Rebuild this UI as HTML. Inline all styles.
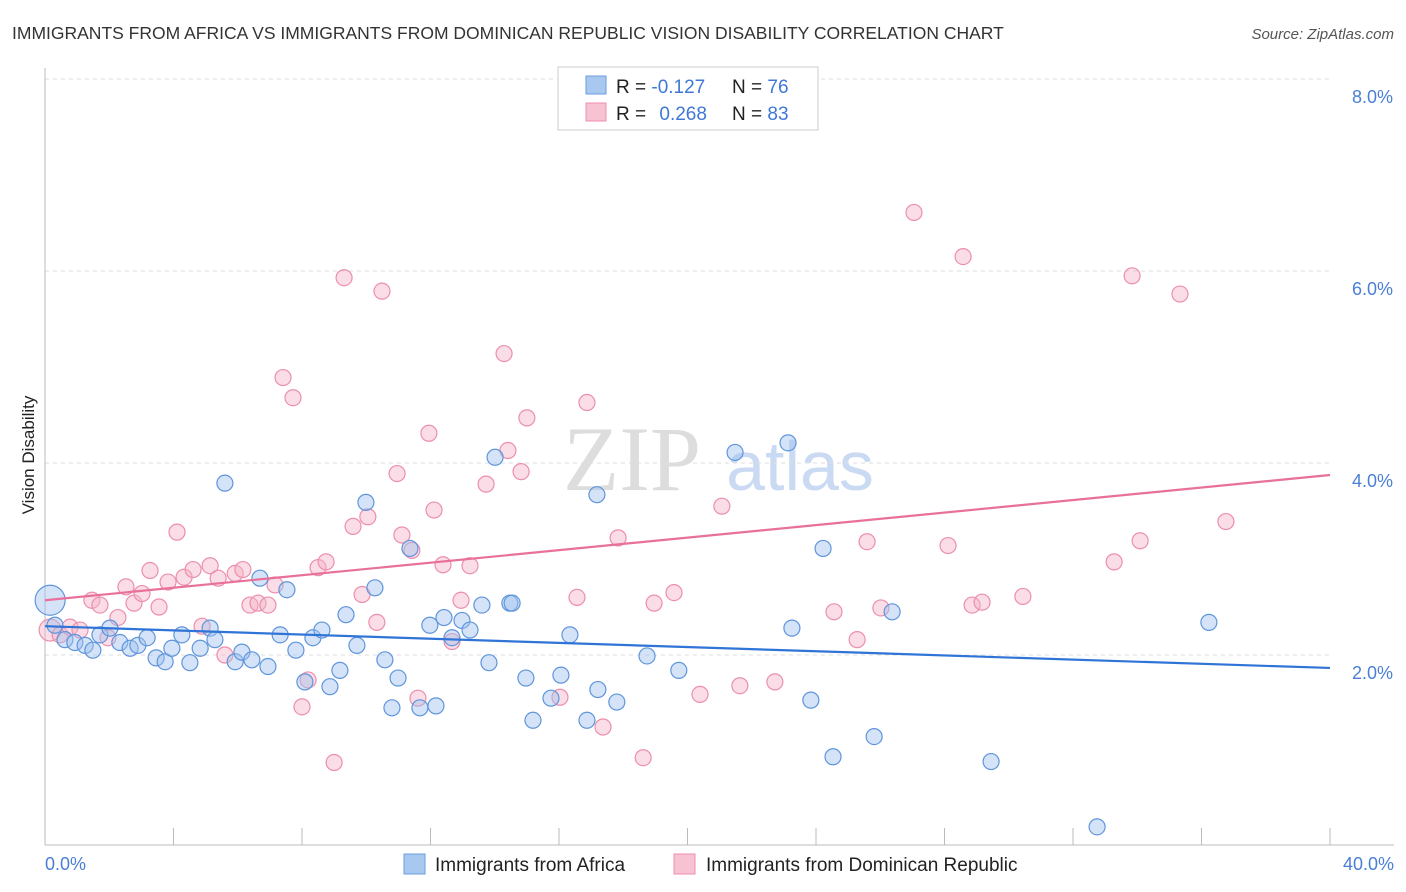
<!DOCTYPE html>
<html><head><meta charset="utf-8">
<style>
body{margin:0;background:#fff;font-family:"Liberation Sans",sans-serif;}
#wrap{position:relative;width:1406px;height:892px;overflow:hidden;}
</style></head>
<body>
<div id="wrap">
<svg id="chart" width="1406" height="892">
  <text x="12" y="39" font-size="17.5" fill="#333">IMMIGRANTS FROM AFRICA VS IMMIGRANTS FROM DOMINICAN REPUBLIC VISION DISABILITY CORRELATION CHART</text>
  <text x="1394" y="39" font-size="15" fill="#555" font-style="italic" text-anchor="end">Source: ZipAtlas.com</text>
  <text x="632" y="490" font-size="92" fill="#ddd" font-family="Liberation Serif,serif" text-anchor="middle">ZIP</text>
  <text x="800" y="490" font-size="70" fill="#c9daf2" text-anchor="middle">atlas</text>
  <text transform="translate(34,455) rotate(-90)" font-size="17" fill="#222" text-anchor="middle">Vision Disability</text>
  <g id="grid"></g><g id="pts"></g><g id="trend"></g>
  <g>
    <rect x="558" y="67" width="260" height="63" fill="#fff" stroke="#ccc"/>
    <rect x="586" y="76" width="20" height="18" fill="#a9c8f0" stroke="#6a9ee0"/>
    <rect x="586" y="103" width="20" height="18" fill="#f7c3d3" stroke="#ec8fac"/>
    <text x="616" y="93" font-size="19" fill="#222">R = <tspan fill="#3f78d6">-0.127</tspan><tspan x="732">N = </tspan><tspan fill="#3f78d6">76</tspan></text>
    <text x="616" y="120" font-size="19" fill="#222">R = <tspan fill="#3f78d6" dx="8">0.268</tspan><tspan x="732">N = </tspan><tspan fill="#3f78d6">83</tspan></text>
  </g>
  <g>
    <rect x="404" y="854" width="21" height="20" fill="#a9c8f0" stroke="#6a9ee0"/>
    <text x="435" y="871" font-size="19" fill="#222">Immigrants from Africa</text>
    <rect x="674" y="854" width="21" height="20" fill="#f7c3d3" stroke="#ec8fac"/>
    <text x="706" y="871" font-size="19" fill="#222">Immigrants from Dominican Republic</text>
  </g>
</svg>
</div>
<script>
const yTicks=[2,4,6,8];
const yTickLabels=["2.0%","4.0%","6.0%","8.0%"];
const xTickLabels=["0.0%","40.0%"];
const blueX=[0.16,0.31,0.62,0.93,1.25,1.49,1.71,2.02,2.33,2.65,2.89,3.18,3.46,3.74,3.95,4.26,4.51,4.83,5.14,5.29,5.60,5.92,6.13,6.44,6.69,6.94,7.32,7.53,7.81,8.09,8.34,8.62,8.87,9.18,9.37,9.71,9.99,10.27,10.58,10.80,10.99,11.36,11.67,11.98,12.17,12.42,12.67,12.98,13.23,13.60,13.82,14.01,14.47,14.54,14.97,15.19,15.75,16.06,16.34,16.87,17.18,17.21,17.80,18.74,19.73,21.48,23.13,23.25,23.84,24.22,24.53,25.81,26.37,29.45,32.75,36.23];
const blueY=[2.57,2.31,2.16,2.13,2.10,2.05,2.21,2.28,2.13,2.07,2.10,2.18,1.97,1.93,2.07,2.21,1.92,2.07,2.28,2.16,3.79,1.93,2.03,1.95,2.80,1.88,2.21,2.68,2.05,1.72,2.18,2.26,1.67,1.84,2.42,2.10,3.59,2.70,1.95,1.45,1.76,3.11,1.45,2.31,1.47,2.39,2.18,2.36,2.26,2.52,1.92,4.06,2.54,2.54,1.76,1.32,1.55,1.79,2.21,1.32,3.67,1.64,1.51,1.99,1.84,4.11,4.21,2.28,1.53,3.11,0.94,1.15,2.45,0.89,0.21,2.34];
const pinkX=[0.16,0.47,0.78,1.09,1.46,1.71,1.96,2.27,2.52,2.77,3.02,3.27,3.55,3.83,4.11,4.33,4.61,4.89,5.14,5.39,5.60,5.92,6.16,6.38,6.63,6.94,7.16,7.41,7.72,8.00,8.19,8.50,8.75,9.00,9.31,9.59,9.87,10.05,10.33,10.49,10.96,11.11,11.42,11.61,11.95,12.11,12.39,12.67,12.95,13.23,13.73,14.29,14.41,14.82,15.00,16.03,16.56,16.87,17.37,17.84,18.62,18.96,19.58,20.39,21.07,21.63,22.72,24.56,25.28,25.59,26.02,27.05,28.11,28.58,28.86,29.17,30.44,33.28,33.84,34.09,35.33,36.76];
const pinkY=[2.26,2.21,2.29,2.26,2.57,2.52,2.18,2.39,2.71,2.54,2.64,2.88,2.50,2.76,3.28,2.81,2.89,2.30,2.93,2.80,2.00,2.85,2.89,2.52,2.54,2.52,2.73,4.89,4.68,1.46,1.74,2.91,2.97,0.88,5.93,3.34,2.63,3.44,2.34,5.79,3.89,3.25,3.09,1.55,4.31,3.51,2.94,2.14,2.57,2.93,3.78,5.14,4.13,3.91,4.47,1.56,2.60,4.63,1.25,3.22,0.93,2.54,2.65,1.59,3.55,1.68,1.72,2.45,2.16,3.18,2.49,6.61,3.14,6.15,2.52,2.55,2.61,2.97,5.95,3.19,5.76,3.39];
const blueTrend=[2.30,1.865];
const pinkTrend=[2.57,3.875];

const NS="http://www.w3.org/2000/svg";
const X0=45,X1=1330,Y0=847,PPU=96;
const xs=v=>X0+(X1-X0)*v/40;
const ys=v=>Y0-v*PPU;
function mk(tag,attrs,parent){const e=document.createElementNS(NS,tag);for(const k in attrs)e.setAttribute(k,attrs[k]);parent.appendChild(e);return e;}
const grid=document.getElementById('grid');
yTicks.forEach((t,i)=>{
  const l=mk('line',{x1:X0,x2:X1,y1:ys(t),y2:ys(t),stroke:'#ddd','stroke-dasharray':'4,4'},grid);
  
  
  const tx=mk('text',{x:1393,y:ys(t)+24,'font-size':18,fill:'#4a7fd6','text-anchor':'end'},grid);
  tx.textContent=yTickLabels[i];
  
  
});
const ax=mk('line',{x1:X0,x2:X0,y1:68,y2:845,stroke:'#bbb'},grid);


const bx=mk('line',{x1:X0,x2:1394,y1:845,y2:845,stroke:'#bbb'},grid);


for(let k=0;k<=10;k++){
  const t=mk('line',{x1:xs(k*4),x2:xs(k*4),y1:828,y2:845,stroke:'#bbb'},grid);
  
  
}
[[0,'start',45],[40,'end',1394]].forEach((d,i)=>{
  const tx=mk('text',{x:d[2],y:870,'font-size':18,fill:'#4a7fd6','text-anchor':d[1]},grid);
  tx.textContent=xTickLabels[i];
  
  
});
const pts=document.getElementById('pts');
function series(X,Y,fill,stroke,name){
  X.forEach((x,i)=>{
    const r=(i===0&&name==='africa-point')?15:(i===0?11:8);
    const c=mk('circle',{cx:xs(x),cy:ys(Y[i]),r:r,fill:fill,'fill-opacity':0.45,stroke:stroke,'stroke-width':1.2},pts);
    
    
  });
}
series(pinkX,pinkY,'#f5b3c8','#ec8fac','dominican-point');
series(blueX,blueY,'#9fc1ee','#5f95dc','africa-point');
const tr=document.getElementById('trend');
const bl=mk('line',{x1:xs(0),y1:ys(blueTrend[0]),x2:xs(40),y2:ys(blueTrend[1]),stroke:'#2f74d6','stroke-width':2.2},tr);


const pl=mk('line',{x1:xs(0),y1:ys(pinkTrend[0]),x2:xs(40),y2:ys(pinkTrend[1]),stroke:'#e8709a','stroke-width':2.2},tr);


</script>
</body></html>
